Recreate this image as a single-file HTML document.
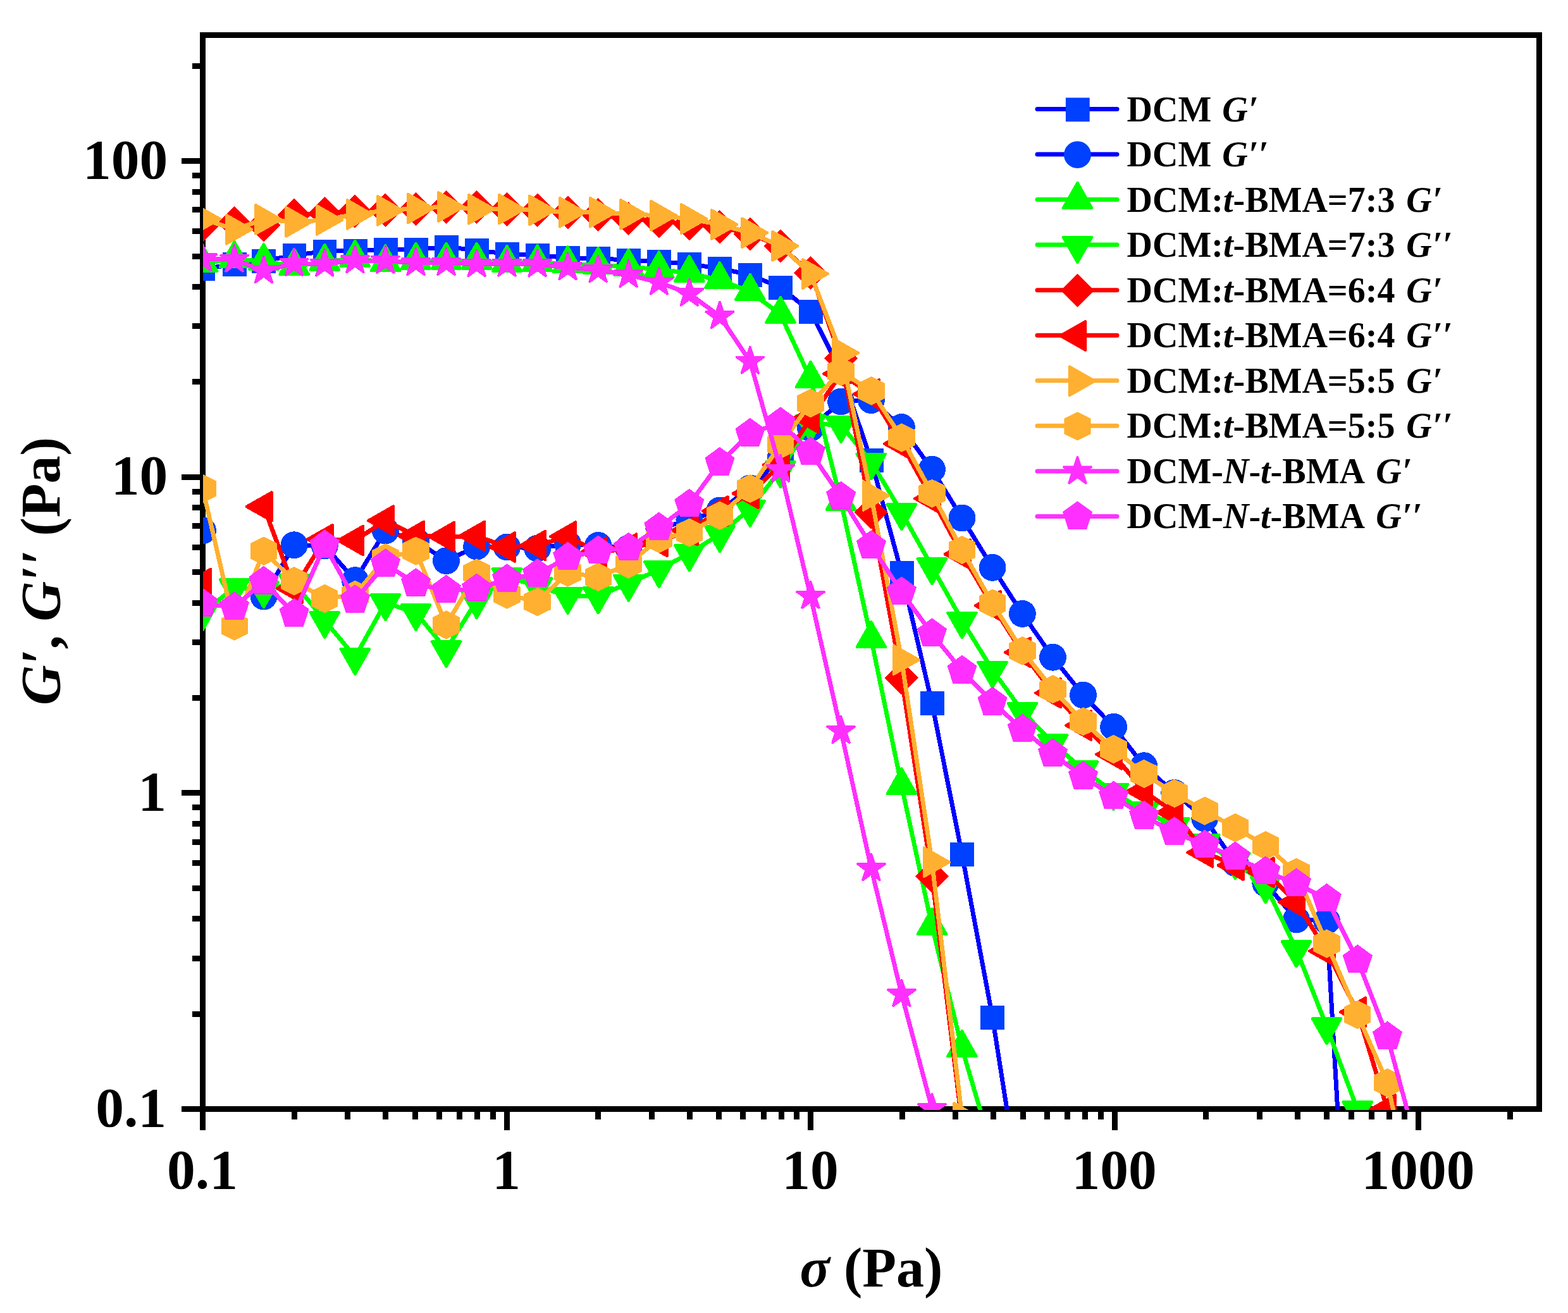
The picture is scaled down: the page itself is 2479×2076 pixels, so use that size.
<!DOCTYPE html>
<html><head><meta charset="utf-8"><title>G′, G′′ vs σ</title>
<style>html,body{margin:0;padding:0;background:#fff;overflow:hidden}svg{display:block}text{font-family:"Liberation Serif","Times New Roman",serif;font-weight:bold;fill:#000}.i{font-style:italic}</style></head><body>
<svg width="2479" height="2076" viewBox="0 0 2479 2076">
<rect width="2479" height="2076" fill="#fff"/>
<defs>
<g id="m-sq"><rect x="-17.1" y="-17.1" width="34.8" height="34.8" stroke-width="3.0" stroke-linejoin="miter" stroke-miterlimit="1.9"/></g>
<g id="m-ci"><circle r="19.9" stroke-width="3.0" stroke-linejoin="miter" stroke-miterlimit="1.9"/></g>
<g id="m-up"><polygon points="0,-28.55 23.75,13.2 -23.75,13.2" stroke-width="3.0" stroke-linejoin="miter" stroke-miterlimit="1.9"/></g>
<g id="m-dn"><polygon points="0,28.55 23.75,-13.2 -23.75,-13.2" stroke-width="3.0" stroke-linejoin="miter" stroke-miterlimit="1.9"/></g>
<g id="m-di"><polygon points="0,-24.4 24.4,0 0,24.4 -24.4,0" stroke-width="3.0" stroke-linejoin="miter" stroke-miterlimit="1.9"/></g>
<g id="m-le"><polygon points="-28.55,0 13.2,-23.75 13.2,23.75" stroke-width="3.0" stroke-linejoin="miter" stroke-miterlimit="1.9"/></g>
<g id="m-ri"><polygon points="28.55,0 -13.2,-23.75 -13.2,23.75" stroke-width="3.0" stroke-linejoin="miter" stroke-miterlimit="1.9"/></g>
<g id="m-hx"><polygon points="0,-21 19.6,-11.3 19.6,11.3 0,21 -19.6,11.3 -19.6,-11.3" stroke-width="3.0" stroke-linejoin="miter" stroke-miterlimit="1.9"/></g>
<g id="m-st"><polygon points="0,-23.9 5.4,-7.4 22.7,-7.4 8.7,2.8 14,19.3 0,9.1 -14,19.3 -8.7,2.8 -22.7,-7.4 -5.4,-7.4" stroke-width="3.0" stroke-linejoin="miter" stroke-miterlimit="1.9"/></g>
<g id="m-pe"><polygon points="0,-22.9 21.8,-7.1 13.5,18.5 -13.5,18.5 -21.8,-7.1" stroke-width="3.0" stroke-linejoin="miter" stroke-miterlimit="1.9"/></g>
<clipPath id="cp"><rect x="321" y="55.5" width="2112.5" height="1699.5"/></clipPath>
</defs>
<g stroke="#000" stroke-width="9" fill="none" shape-rendering="crispEdges">
<rect x="320.5" y="55.5" width="2113" height="1698"/>
<path d="M320.5 1753.5 v33.5 M465.2 1753.5 v16.5 M549.8 1753.5 v16.5 M609.8 1753.5 v16.5 M656.4 1753.5 v16.5 M694.4 1753.5 v16.5 M726.6 1753.5 v16.5 M754.5 1753.5 v16.5 M779 1753.5 v16.5 M801 1753.5 v33.5 M945.7 1753.5 v16.5 M1030.3 1753.5 v16.5 M1090.3 1753.5 v16.5 M1136.9 1753.5 v16.5 M1174.9 1753.5 v16.5 M1207.1 1753.5 v16.5 M1235 1753.5 v16.5 M1259.6 1753.5 v16.5 M1281.5 1753.5 v33.5 M1426.2 1753.5 v16.5 M1510.8 1753.5 v16.5 M1570.9 1753.5 v16.5 M1617.4 1753.5 v16.5 M1655.5 1753.5 v16.5 M1687.6 1753.5 v16.5 M1715.5 1753.5 v16.5 M1740.1 1753.5 v16.5 M1762.1 1753.5 v33.5 M1906.7 1753.5 v16.5 M1991.3 1753.5 v16.5 M2051.4 1753.5 v16.5 M2097.9 1753.5 v16.5 M2136 1753.5 v16.5 M2168.2 1753.5 v16.5 M2196 1753.5 v16.5 M2220.6 1753.5 v16.5 M2242.6 1753.5 v33.5 M2387.3 1753.5 v16.5 M320.5 1753.5 h-33.5 M320.5 1603.1 h-16.5 M320.5 1515.1 h-16.5 M320.5 1452.7 h-16.5 M320.5 1404.3 h-16.5 M320.5 1364.7 h-16.5 M320.5 1331.2 h-16.5 M320.5 1302.3 h-16.5 M320.5 1276.7 h-16.5 M320.5 1253.8 h-33.5 M320.5 1103.4 h-16.5 M320.5 1015.5 h-16.5 M320.5 953 h-16.5 M320.5 904.6 h-16.5 M320.5 865 h-16.5 M320.5 831.6 h-16.5 M320.5 802.6 h-16.5 M320.5 777.1 h-16.5 M320.5 754.2 h-33.5 M320.5 603.8 h-16.5 M320.5 515.8 h-16.5 M320.5 453.4 h-16.5 M320.5 405 h-16.5 M320.5 365.4 h-16.5 M320.5 331.9 h-16.5 M320.5 303 h-16.5 M320.5 277.4 h-16.5 M320.5 254.6 h-33.5 M320.5 104.1 h-16.5"/>
</g>
<g font-size="89.5">
<text x="320" y="1879.3" text-anchor="middle">0.1</text>
<text x="800.5" y="1879.3" text-anchor="middle">1</text>
<text x="1281" y="1879.3" text-anchor="middle">10</text>
<text x="1761.6" y="1879.3" text-anchor="middle">100</text>
<text x="2242.1" y="1879.3" text-anchor="middle">1000</text>
<text x="263" y="1780.9" text-anchor="end">0.1</text>
<text x="263" y="1280.7" text-anchor="end">1</text>
<text x="265.3" y="780.9" text-anchor="end">10</text>
<text x="265.3" y="281.5" text-anchor="end">100</text>
</g>
<text x="1377.5" y="2034.3" font-size="88" text-anchor="middle"><tspan class="i">σ</tspan> (Pa)</text>
<text transform="translate(93.8 903) rotate(-90)" font-size="88" text-anchor="middle"><tspan class="i">G′</tspan>, <tspan class="i">G′′</tspan> (Pa)</text>
<g clip-path="url(#cp)" shape-rendering="crispEdges">
<g>
<polyline fill="none" stroke="#0000ff" stroke-width="7" stroke-linejoin="round" points="320.5,425.2 370.6,417.9 416.9,412.6 465.1,403.6 513.3,397.4 561.4,396.4 609.4,394.5 657.5,394.5 705.5,390.5 753.6,395.7 801.5,401.4 849.6,403.6 897.6,407.6 945.7,408.6 993.7,411.4 1041.8,413.6 1089.8,417.4 1137.9,424.5 1185.9,434.5 1234,454.5 1281.5,492.5 1329.6,588 1377.4,727.9 1425.4,906 1473.5,1111.9 1521,1351 1569.1,1608.3 1616.4,1910"/>
<g fill="#0040ff" stroke="#0040ff">
<use href="#m-sq" x="320.5" y="425.2"/>
<use href="#m-sq" x="370.6" y="417.9"/>
<use href="#m-sq" x="416.9" y="412.6"/>
<use href="#m-sq" x="465.1" y="403.6"/>
<use href="#m-sq" x="513.3" y="397.4"/>
<use href="#m-sq" x="561.4" y="396.4"/>
<use href="#m-sq" x="609.4" y="394.5"/>
<use href="#m-sq" x="657.5" y="394.5"/>
<use href="#m-sq" x="705.5" y="390.5"/>
<use href="#m-sq" x="753.6" y="395.7"/>
<use href="#m-sq" x="801.5" y="401.4"/>
<use href="#m-sq" x="849.6" y="403.6"/>
<use href="#m-sq" x="897.6" y="407.6"/>
<use href="#m-sq" x="945.7" y="408.6"/>
<use href="#m-sq" x="993.7" y="411.4"/>
<use href="#m-sq" x="1041.8" y="413.6"/>
<use href="#m-sq" x="1089.8" y="417.4"/>
<use href="#m-sq" x="1137.9" y="424.5"/>
<use href="#m-sq" x="1185.9" y="434.5"/>
<use href="#m-sq" x="1234" y="454.5"/>
<use href="#m-sq" x="1281.5" y="492.5"/>
<use href="#m-sq" x="1329.6" y="588"/>
<use href="#m-sq" x="1377.4" y="727.9"/>
<use href="#m-sq" x="1425.4" y="906"/>
<use href="#m-sq" x="1473.5" y="1111.9"/>
<use href="#m-sq" x="1521" y="1351"/>
<use href="#m-sq" x="1569.1" y="1608.3"/>
<use href="#m-sq" x="1616.4" y="1910"/>
</g></g>
<g>
<polyline fill="none" stroke="#0000ff" stroke-width="7" stroke-linejoin="round" points="416.9,943 465.1,861.7 513.3,862.9 561.4,917.6 609.4,839 657.5,855 705.5,886.7 753.6,864 801.5,865 849.6,867 897.6,860 945.7,862.4 993.7,867 1041.8,836 1089.8,822 1137.9,807 1185.9,772 1234,724 1281.5,676.7 1329.6,635 1377.4,632.6 1425.4,675.5 1473.5,742.1 1521,819 1569.1,897.4 1616.4,970.4 1664.5,1039.3 1712.5,1099 1760.6,1149.3 1808.6,1210.7 1856.7,1253.6 1904.7,1294 1952.8,1364.5 2000.8,1396.7 2049.5,1453.8 2097.5,1456 2146.3,2300"/>
<g fill="#0040ff" stroke="#0040ff">
<use href="#m-ci" x="320.5" y="839"/>
<use href="#m-ci" x="416.9" y="943"/>
<use href="#m-ci" x="465.1" y="861.7"/>
<use href="#m-ci" x="513.3" y="862.9"/>
<use href="#m-ci" x="561.4" y="917.6"/>
<use href="#m-ci" x="609.4" y="839"/>
<use href="#m-ci" x="657.5" y="855"/>
<use href="#m-ci" x="705.5" y="886.7"/>
<use href="#m-ci" x="753.6" y="864"/>
<use href="#m-ci" x="801.5" y="865"/>
<use href="#m-ci" x="849.6" y="867"/>
<use href="#m-ci" x="897.6" y="860"/>
<use href="#m-ci" x="945.7" y="862.4"/>
<use href="#m-ci" x="993.7" y="867"/>
<use href="#m-ci" x="1041.8" y="836"/>
<use href="#m-ci" x="1089.8" y="822"/>
<use href="#m-ci" x="1137.9" y="807"/>
<use href="#m-ci" x="1185.9" y="772"/>
<use href="#m-ci" x="1234" y="724"/>
<use href="#m-ci" x="1281.5" y="676.7"/>
<use href="#m-ci" x="1329.6" y="635"/>
<use href="#m-ci" x="1377.4" y="632.6"/>
<use href="#m-ci" x="1425.4" y="675.5"/>
<use href="#m-ci" x="1473.5" y="742.1"/>
<use href="#m-ci" x="1521" y="819"/>
<use href="#m-ci" x="1569.1" y="897.4"/>
<use href="#m-ci" x="1616.4" y="970.4"/>
<use href="#m-ci" x="1664.5" y="1039.3"/>
<use href="#m-ci" x="1712.5" y="1099"/>
<use href="#m-ci" x="1760.6" y="1149.3"/>
<use href="#m-ci" x="1808.6" y="1210.7"/>
<use href="#m-ci" x="1856.7" y="1253.6"/>
<use href="#m-ci" x="1904.7" y="1294"/>
<use href="#m-ci" x="1952.8" y="1364.5"/>
<use href="#m-ci" x="2000.8" y="1396.7"/>
<use href="#m-ci" x="2049.5" y="1453.8"/>
<use href="#m-ci" x="2097.5" y="1456"/>
<use href="#m-ci" x="2146.3" y="2300"/>
</g></g>
<g>
<polyline fill="none" stroke="#00ff00" stroke-width="7" stroke-linejoin="round" points="320.5,416 370.6,409.5 416.9,413.3 465.1,421 513.3,414 561.4,408 609.4,415.7 657.5,412 705.5,412 753.6,412 801.5,416.2 849.6,415.5 897.6,417.4 945.7,419.3 993.7,422.1 1041.8,425.7 1089.8,432.1 1137.9,442.6 1185.9,461.2 1234,497.2 1281.5,599.4 1329.6,793.1 1377.4,1010.6 1425.4,1242.4 1473.5,1464.5 1521,1657.4 1569.1,1821"/>
<g fill="#00ff00" stroke="#00ff00">
<use href="#m-up" x="320.5" y="416"/>
<use href="#m-up" x="370.6" y="409.5"/>
<use href="#m-up" x="416.9" y="413.3"/>
<use href="#m-up" x="465.1" y="421"/>
<use href="#m-up" x="513.3" y="414"/>
<use href="#m-up" x="561.4" y="408"/>
<use href="#m-up" x="609.4" y="415.7"/>
<use href="#m-up" x="657.5" y="412"/>
<use href="#m-up" x="705.5" y="412"/>
<use href="#m-up" x="753.6" y="412"/>
<use href="#m-up" x="801.5" y="416.2"/>
<use href="#m-up" x="849.6" y="415.5"/>
<use href="#m-up" x="897.6" y="417.4"/>
<use href="#m-up" x="945.7" y="419.3"/>
<use href="#m-up" x="993.7" y="422.1"/>
<use href="#m-up" x="1041.8" y="425.7"/>
<use href="#m-up" x="1089.8" y="432.1"/>
<use href="#m-up" x="1137.9" y="442.6"/>
<use href="#m-up" x="1185.9" y="461.2"/>
<use href="#m-up" x="1234" y="497.2"/>
<use href="#m-up" x="1281.5" y="599.4"/>
<use href="#m-up" x="1329.6" y="793.1"/>
<use href="#m-up" x="1377.4" y="1010.6"/>
<use href="#m-up" x="1425.4" y="1242.4"/>
<use href="#m-up" x="1473.5" y="1464.5"/>
<use href="#m-up" x="1521" y="1657.4"/>
<use href="#m-up" x="1569.1" y="1821"/>
</g></g>
<g>
<polyline fill="none" stroke="#00ff00" stroke-width="7" stroke-linejoin="round" points="320.5,968.8 370.6,929 416.9,933 465.1,922 513.3,980.7 561.4,1038.8 609.4,953 657.5,968.8 705.5,1026.9 753.6,949.8 801.5,912 849.6,927 897.6,942.4 945.7,942.1 993.7,922.4 1041.8,900.7 1089.8,874.8 1137.9,844.8 1185.9,804.7 1234,743 1281.5,669.8 1329.6,672 1377.4,730.2 1425.4,810 1473.5,896 1521,981.2 1569.1,1059.5 1616.4,1124.5 1664.5,1175 1712.5,1216.9 1760.6,1252.9 1808.6,1281.4 1856.7,1306.9 1904.7,1332.8 1952.8,1361.7 2000.8,1399.8 2049.5,1501.2 2097.5,1623.1 2146.3,1755"/>
<g fill="#00ff00" stroke="#00ff00">
<use href="#m-dn" x="320.5" y="968.8"/>
<use href="#m-dn" x="370.6" y="929"/>
<use href="#m-dn" x="416.9" y="933"/>
<use href="#m-dn" x="465.1" y="922"/>
<use href="#m-dn" x="513.3" y="980.7"/>
<use href="#m-dn" x="561.4" y="1038.8"/>
<use href="#m-dn" x="609.4" y="953"/>
<use href="#m-dn" x="657.5" y="968.8"/>
<use href="#m-dn" x="705.5" y="1026.9"/>
<use href="#m-dn" x="753.6" y="949.8"/>
<use href="#m-dn" x="801.5" y="912"/>
<use href="#m-dn" x="849.6" y="927"/>
<use href="#m-dn" x="897.6" y="942.4"/>
<use href="#m-dn" x="945.7" y="942.1"/>
<use href="#m-dn" x="993.7" y="922.4"/>
<use href="#m-dn" x="1041.8" y="900.7"/>
<use href="#m-dn" x="1089.8" y="874.8"/>
<use href="#m-dn" x="1137.9" y="844.8"/>
<use href="#m-dn" x="1185.9" y="804.7"/>
<use href="#m-dn" x="1234" y="743"/>
<use href="#m-dn" x="1281.5" y="669.8"/>
<use href="#m-dn" x="1329.6" y="672"/>
<use href="#m-dn" x="1377.4" y="730.2"/>
<use href="#m-dn" x="1425.4" y="810"/>
<use href="#m-dn" x="1473.5" y="896"/>
<use href="#m-dn" x="1521" y="981.2"/>
<use href="#m-dn" x="1569.1" y="1059.5"/>
<use href="#m-dn" x="1616.4" y="1124.5"/>
<use href="#m-dn" x="1664.5" y="1175"/>
<use href="#m-dn" x="1712.5" y="1216.9"/>
<use href="#m-dn" x="1760.6" y="1252.9"/>
<use href="#m-dn" x="1808.6" y="1281.4"/>
<use href="#m-dn" x="1856.7" y="1306.9"/>
<use href="#m-dn" x="1904.7" y="1332.8"/>
<use href="#m-dn" x="1952.8" y="1361.7"/>
<use href="#m-dn" x="2000.8" y="1399.8"/>
<use href="#m-dn" x="2049.5" y="1501.2"/>
<use href="#m-dn" x="2097.5" y="1623.1"/>
<use href="#m-dn" x="2146.3" y="1755"/>
</g></g>
<g>
<polyline fill="none" stroke="#ff0000" stroke-width="7" stroke-linejoin="round" points="320.5,356.4 370.6,352.9 416.9,355.7 465.1,340 513.3,337.6 561.4,334 609.4,332.1 657.5,330.3 705.5,327.4 753.6,327.4 801.5,331 849.6,332.1 897.6,336 945.7,339.3 993.7,345.5 1041.8,349.8 1089.8,354 1137.9,358.6 1185.9,370 1234,389.3 1281.5,431.2 1329.6,566.7 1377.4,810 1425.4,1071.9 1473.5,1385.7 1521,1777"/>
<g fill="#ff0000" stroke="#ff0000">
<use href="#m-di" x="320.5" y="356.4"/>
<use href="#m-di" x="370.6" y="352.9"/>
<use href="#m-di" x="416.9" y="355.7"/>
<use href="#m-di" x="465.1" y="340"/>
<use href="#m-di" x="513.3" y="337.6"/>
<use href="#m-di" x="561.4" y="334"/>
<use href="#m-di" x="609.4" y="332.1"/>
<use href="#m-di" x="657.5" y="330.3"/>
<use href="#m-di" x="705.5" y="327.4"/>
<use href="#m-di" x="753.6" y="327.4"/>
<use href="#m-di" x="801.5" y="331"/>
<use href="#m-di" x="849.6" y="332.1"/>
<use href="#m-di" x="897.6" y="336"/>
<use href="#m-di" x="945.7" y="339.3"/>
<use href="#m-di" x="993.7" y="345.5"/>
<use href="#m-di" x="1041.8" y="349.8"/>
<use href="#m-di" x="1089.8" y="354"/>
<use href="#m-di" x="1137.9" y="358.6"/>
<use href="#m-di" x="1185.9" y="370"/>
<use href="#m-di" x="1234" y="389.3"/>
<use href="#m-di" x="1281.5" y="431.2"/>
<use href="#m-di" x="1329.6" y="566.7"/>
<use href="#m-di" x="1377.4" y="810"/>
<use href="#m-di" x="1425.4" y="1071.9"/>
<use href="#m-di" x="1473.5" y="1385.7"/>
<use href="#m-di" x="1521" y="1777"/>
</g></g>
<g>
<polyline fill="none" stroke="#ff0000" stroke-width="7" stroke-linejoin="round" points="416.9,801 465.1,930.5 513.3,852.6 561.4,854.5 609.4,823.1 657.5,847.4 705.5,848.6 753.6,847.4 801.5,865 849.6,862.4 897.6,848.1 945.7,873.1 993.7,867.1 1041.8,856.4 1089.8,838.6 1137.9,808.1 1185.9,780.2 1234,735 1281.5,661.2 1329.6,591 1377.4,623 1425.4,701.7 1473.5,788.3 1521,876.2 1569.1,957.6 1616.4,1031.4 1664.5,1095.7 1712.5,1147 1760.6,1192.9 1808.6,1251.2 1856.7,1284.5 1904.7,1347.9 1952.8,1368.1 2000.8,1379.3 2049.5,1426.4 2097.5,1503.8 2146.3,1600.2 2193.5,1754"/>
<g fill="#ff0000" stroke="#ff0000">
<use href="#m-le" x="320.5" y="922.4"/>
<use href="#m-le" x="416.9" y="801"/>
<use href="#m-le" x="465.1" y="930.5"/>
<use href="#m-le" x="513.3" y="852.6"/>
<use href="#m-le" x="561.4" y="854.5"/>
<use href="#m-le" x="609.4" y="823.1"/>
<use href="#m-le" x="657.5" y="847.4"/>
<use href="#m-le" x="705.5" y="848.6"/>
<use href="#m-le" x="753.6" y="847.4"/>
<use href="#m-le" x="801.5" y="865"/>
<use href="#m-le" x="849.6" y="862.4"/>
<use href="#m-le" x="897.6" y="848.1"/>
<use href="#m-le" x="945.7" y="873.1"/>
<use href="#m-le" x="993.7" y="867.1"/>
<use href="#m-le" x="1041.8" y="856.4"/>
<use href="#m-le" x="1089.8" y="838.6"/>
<use href="#m-le" x="1137.9" y="808.1"/>
<use href="#m-le" x="1185.9" y="780.2"/>
<use href="#m-le" x="1234" y="735"/>
<use href="#m-le" x="1281.5" y="661.2"/>
<use href="#m-le" x="1329.6" y="591"/>
<use href="#m-le" x="1377.4" y="623"/>
<use href="#m-le" x="1425.4" y="701.7"/>
<use href="#m-le" x="1473.5" y="788.3"/>
<use href="#m-le" x="1521" y="876.2"/>
<use href="#m-le" x="1569.1" y="957.6"/>
<use href="#m-le" x="1616.4" y="1031.4"/>
<use href="#m-le" x="1664.5" y="1095.7"/>
<use href="#m-le" x="1712.5" y="1147"/>
<use href="#m-le" x="1760.6" y="1192.9"/>
<use href="#m-le" x="1808.6" y="1251.2"/>
<use href="#m-le" x="1856.7" y="1284.5"/>
<use href="#m-le" x="1904.7" y="1347.9"/>
<use href="#m-le" x="1952.8" y="1368.1"/>
<use href="#m-le" x="2000.8" y="1379.3"/>
<use href="#m-le" x="2049.5" y="1426.4"/>
<use href="#m-le" x="2097.5" y="1503.8"/>
<use href="#m-le" x="2146.3" y="1600.2"/>
<use href="#m-le" x="2193.5" y="1754"/>
</g></g>
<g>
<polyline fill="none" stroke="#ffb030" stroke-width="7" stroke-linejoin="round" points="320.5,346.2 370.6,362.7 416.9,346.9 465.1,350.8 513.3,347.9 561.4,338.9 609.4,332.9 657.5,329.5 705.5,326.9 753.6,330.7 801.5,330.7 849.6,332.4 897.6,335.7 945.7,335.7 993.7,338.8 1041.8,340.7 1089.8,346 1137.9,355 1185.9,368.1 1234,389 1281.5,432.9 1329.6,558 1377.4,783.8 1425.4,1043.3 1473.5,1363.1 1521,1767"/>
<g fill="#ffb030" stroke="#ffb030">
<use href="#m-ri" x="320.5" y="346.2"/>
<use href="#m-ri" x="370.6" y="362.7"/>
<use href="#m-ri" x="416.9" y="346.9"/>
<use href="#m-ri" x="465.1" y="350.8"/>
<use href="#m-ri" x="513.3" y="347.9"/>
<use href="#m-ri" x="561.4" y="338.9"/>
<use href="#m-ri" x="609.4" y="332.9"/>
<use href="#m-ri" x="657.5" y="329.5"/>
<use href="#m-ri" x="705.5" y="326.9"/>
<use href="#m-ri" x="753.6" y="330.7"/>
<use href="#m-ri" x="801.5" y="330.7"/>
<use href="#m-ri" x="849.6" y="332.4"/>
<use href="#m-ri" x="897.6" y="335.7"/>
<use href="#m-ri" x="945.7" y="335.7"/>
<use href="#m-ri" x="993.7" y="338.8"/>
<use href="#m-ri" x="1041.8" y="340.7"/>
<use href="#m-ri" x="1089.8" y="346"/>
<use href="#m-ri" x="1137.9" y="355"/>
<use href="#m-ri" x="1185.9" y="368.1"/>
<use href="#m-ri" x="1234" y="389"/>
<use href="#m-ri" x="1281.5" y="432.9"/>
<use href="#m-ri" x="1329.6" y="558"/>
<use href="#m-ri" x="1377.4" y="783.8"/>
<use href="#m-ri" x="1425.4" y="1043.3"/>
<use href="#m-ri" x="1473.5" y="1363.1"/>
<use href="#m-ri" x="1521" y="1767"/>
</g></g>
<g>
<polyline fill="none" stroke="#ffb030" stroke-width="7" stroke-linejoin="round" points="320.5,772.4 370.6,990 416.9,871.2 465.1,918.8 513.3,946.5 561.4,940.5 609.4,882 657.5,871.2 705.5,988 753.6,906 801.5,940 849.6,951.7 897.6,905.2 945.7,912.4 993.7,892.1 1041.8,851.7 1089.8,842.1 1137.9,815.2 1185.9,772.5 1234,702.9 1281.5,637.4 1329.6,587.7 1377.4,618 1425.4,692.1 1473.5,780.2 1521,869.5 1569.1,954 1616.4,1029 1664.5,1089.8 1712.5,1140.8 1760.6,1184.5 1808.6,1223.3 1856.7,1254.3 1904.7,1282.2 1952.8,1308.8 2000.8,1336.8 2049.5,1379.5 2097.5,1491.9 2146.3,1604.3 2193.5,1712 2242.6,1940"/>
<g fill="#ffb030" stroke="#ffb030">
<use href="#m-hx" x="320.5" y="772.4"/>
<use href="#m-hx" x="370.6" y="990"/>
<use href="#m-hx" x="416.9" y="871.2"/>
<use href="#m-hx" x="465.1" y="918.8"/>
<use href="#m-hx" x="513.3" y="946.5"/>
<use href="#m-hx" x="561.4" y="940.5"/>
<use href="#m-hx" x="609.4" y="882"/>
<use href="#m-hx" x="657.5" y="871.2"/>
<use href="#m-hx" x="705.5" y="988"/>
<use href="#m-hx" x="753.6" y="906"/>
<use href="#m-hx" x="801.5" y="940"/>
<use href="#m-hx" x="849.6" y="951.7"/>
<use href="#m-hx" x="897.6" y="905.2"/>
<use href="#m-hx" x="945.7" y="912.4"/>
<use href="#m-hx" x="993.7" y="892.1"/>
<use href="#m-hx" x="1041.8" y="851.7"/>
<use href="#m-hx" x="1089.8" y="842.1"/>
<use href="#m-hx" x="1137.9" y="815.2"/>
<use href="#m-hx" x="1185.9" y="772.5"/>
<use href="#m-hx" x="1234" y="702.9"/>
<use href="#m-hx" x="1281.5" y="637.4"/>
<use href="#m-hx" x="1329.6" y="587.7"/>
<use href="#m-hx" x="1377.4" y="618"/>
<use href="#m-hx" x="1425.4" y="692.1"/>
<use href="#m-hx" x="1473.5" y="780.2"/>
<use href="#m-hx" x="1521" y="869.5"/>
<use href="#m-hx" x="1569.1" y="954"/>
<use href="#m-hx" x="1616.4" y="1029"/>
<use href="#m-hx" x="1664.5" y="1089.8"/>
<use href="#m-hx" x="1712.5" y="1140.8"/>
<use href="#m-hx" x="1760.6" y="1184.5"/>
<use href="#m-hx" x="1808.6" y="1223.3"/>
<use href="#m-hx" x="1856.7" y="1254.3"/>
<use href="#m-hx" x="1904.7" y="1282.2"/>
<use href="#m-hx" x="1952.8" y="1308.8"/>
<use href="#m-hx" x="2000.8" y="1336.8"/>
<use href="#m-hx" x="2049.5" y="1379.5"/>
<use href="#m-hx" x="2097.5" y="1491.9"/>
<use href="#m-hx" x="2146.3" y="1604.3"/>
<use href="#m-hx" x="2193.5" y="1712"/>
<use href="#m-hx" x="2242.6" y="1940"/>
</g></g>
<g>
<polyline fill="none" stroke="#ff30ff" stroke-width="7" stroke-linejoin="round" points="320.5,409.3 370.6,410.5 416.9,428.1 465.1,416.7 513.3,417.4 561.4,411.9 609.4,412.6 657.5,415.7 705.5,415.7 753.6,418 801.5,417.4 849.6,418.1 897.6,422.9 945.7,426.9 993.7,434.8 1041.8,446.4 1089.8,464.3 1137.9,500 1185.9,571.4 1234,742.6 1281.5,942.6 1329.6,1155.8 1377.4,1372.9 1425.4,1572 1473.5,1752.8"/>
<g fill="#ff30ff" stroke="#ff30ff">
<use href="#m-st" x="320.5" y="409.3"/>
<use href="#m-st" x="370.6" y="410.5"/>
<use href="#m-st" x="416.9" y="428.1"/>
<use href="#m-st" x="465.1" y="416.7"/>
<use href="#m-st" x="513.3" y="417.4"/>
<use href="#m-st" x="561.4" y="411.9"/>
<use href="#m-st" x="609.4" y="412.6"/>
<use href="#m-st" x="657.5" y="415.7"/>
<use href="#m-st" x="705.5" y="415.7"/>
<use href="#m-st" x="753.6" y="418"/>
<use href="#m-st" x="801.5" y="417.4"/>
<use href="#m-st" x="849.6" y="418.1"/>
<use href="#m-st" x="897.6" y="422.9"/>
<use href="#m-st" x="945.7" y="426.9"/>
<use href="#m-st" x="993.7" y="434.8"/>
<use href="#m-st" x="1041.8" y="446.4"/>
<use href="#m-st" x="1089.8" y="464.3"/>
<use href="#m-st" x="1137.9" y="500"/>
<use href="#m-st" x="1185.9" y="571.4"/>
<use href="#m-st" x="1234" y="742.6"/>
<use href="#m-st" x="1281.5" y="942.6"/>
<use href="#m-st" x="1329.6" y="1155.8"/>
<use href="#m-st" x="1377.4" y="1372.9"/>
<use href="#m-st" x="1425.4" y="1572"/>
<use href="#m-st" x="1473.5" y="1752.8"/>
</g></g>
<g>
<polyline fill="none" stroke="#ff30ff" stroke-width="7" stroke-linejoin="round" points="320.5,954.6 370.6,960 416.9,919.5 465.1,970.7 513.3,862.1 561.4,948.8 609.4,891.9 657.5,922.9 705.5,933.4 753.6,931.2 801.5,916 849.6,907.6 897.6,881.4 945.7,871.2 993.7,866.4 1041.8,834.3 1089.8,797.4 1137.9,731.5 1185.9,685.5 1234,668.1 1281.5,715.2 1329.6,785.5 1377.4,862.9 1425.4,936.2 1473.5,1002 1521,1060.5 1569.1,1110.5 1616.4,1153.3 1664.5,1192.3 1712.5,1227.9 1760.6,1259.3 1808.6,1290.5 1856.7,1316 1904.7,1336.3 1952.8,1355.1 2000.8,1378.1 2049.5,1397.1 2097.5,1421.4 2146.3,1518.1 2193.5,1639.2 2242.6,1820.7"/>
<g fill="#ff30ff" stroke="#ff30ff">
<use href="#m-pe" x="320.5" y="954.6"/>
<use href="#m-pe" x="370.6" y="960"/>
<use href="#m-pe" x="416.9" y="919.5"/>
<use href="#m-pe" x="465.1" y="970.7"/>
<use href="#m-pe" x="513.3" y="862.1"/>
<use href="#m-pe" x="561.4" y="948.8"/>
<use href="#m-pe" x="609.4" y="891.9"/>
<use href="#m-pe" x="657.5" y="922.9"/>
<use href="#m-pe" x="705.5" y="933.4"/>
<use href="#m-pe" x="753.6" y="931.2"/>
<use href="#m-pe" x="801.5" y="916"/>
<use href="#m-pe" x="849.6" y="907.6"/>
<use href="#m-pe" x="897.6" y="881.4"/>
<use href="#m-pe" x="945.7" y="871.2"/>
<use href="#m-pe" x="993.7" y="866.4"/>
<use href="#m-pe" x="1041.8" y="834.3"/>
<use href="#m-pe" x="1089.8" y="797.4"/>
<use href="#m-pe" x="1137.9" y="731.5"/>
<use href="#m-pe" x="1185.9" y="685.5"/>
<use href="#m-pe" x="1234" y="668.1"/>
<use href="#m-pe" x="1281.5" y="715.2"/>
<use href="#m-pe" x="1329.6" y="785.5"/>
<use href="#m-pe" x="1377.4" y="862.9"/>
<use href="#m-pe" x="1425.4" y="936.2"/>
<use href="#m-pe" x="1473.5" y="1002"/>
<use href="#m-pe" x="1521" y="1060.5"/>
<use href="#m-pe" x="1569.1" y="1110.5"/>
<use href="#m-pe" x="1616.4" y="1153.3"/>
<use href="#m-pe" x="1664.5" y="1192.3"/>
<use href="#m-pe" x="1712.5" y="1227.9"/>
<use href="#m-pe" x="1760.6" y="1259.3"/>
<use href="#m-pe" x="1808.6" y="1290.5"/>
<use href="#m-pe" x="1856.7" y="1316"/>
<use href="#m-pe" x="1904.7" y="1336.3"/>
<use href="#m-pe" x="1952.8" y="1355.1"/>
<use href="#m-pe" x="2000.8" y="1378.1"/>
<use href="#m-pe" x="2049.5" y="1397.1"/>
<use href="#m-pe" x="2097.5" y="1421.4"/>
<use href="#m-pe" x="2146.3" y="1518.1"/>
<use href="#m-pe" x="2193.5" y="1639.2"/>
<use href="#m-pe" x="2242.6" y="1820.7"/>
</g></g>
</g>
<g font-size="57">
<line x1="1640" x2="1766" y1="172.5" y2="172.5" stroke="#0000ff" stroke-width="7" stroke-linecap="round"/>
<use href="#m-sq" x="1703.5" y="173.1" fill="#0040ff" stroke="#0040ff"/>
<text transform="translate(1781.5 191.5) scale(0.983 1)" xml:space="preserve">DCM <tspan class="i" dx="3">G</tspan><tspan class="i" dx="1">′</tspan></text>
<line x1="1640" x2="1766" y1="244.1" y2="244.1" stroke="#0000ff" stroke-width="7" stroke-linecap="round"/>
<use href="#m-ci" x="1703.5" y="244.7" fill="#0040ff" stroke="#0040ff"/>
<text transform="translate(1781.5 263.1) scale(0.983 1)" xml:space="preserve">DCM <tspan class="i" dx="3">G</tspan><tspan class="i" dx="1">′′</tspan></text>
<line x1="1640" x2="1766" y1="315.6" y2="315.6" stroke="#00ff00" stroke-width="7" stroke-linecap="round"/>
<use href="#m-up" x="1703.5" y="316.2" fill="#00ff00" stroke="#00ff00"/>
<text transform="translate(1781.5 334.6) scale(0.983 1)" xml:space="preserve">DCM:<tspan class="i">t</tspan>-BMA=7:3 <tspan class="i" dx="4">G</tspan><tspan class="i" dx="1">′</tspan></text>
<line x1="1640" x2="1766" y1="387.1" y2="387.1" stroke="#00ff00" stroke-width="7" stroke-linecap="round"/>
<use href="#m-dn" x="1703.5" y="387.8" fill="#00ff00" stroke="#00ff00"/>
<text transform="translate(1781.5 406.1) scale(0.983 1)" xml:space="preserve">DCM:<tspan class="i">t</tspan>-BMA=7:3 <tspan class="i" dx="4">G</tspan><tspan class="i" dx="1">′′</tspan></text>
<line x1="1640" x2="1766" y1="458.7" y2="458.7" stroke="#ff0000" stroke-width="7" stroke-linecap="round"/>
<use href="#m-di" x="1703.5" y="459.3" fill="#ff0000" stroke="#ff0000"/>
<text transform="translate(1781.5 477.7) scale(0.983 1)" xml:space="preserve">DCM:<tspan class="i">t</tspan>-BMA=6:4 <tspan class="i" dx="4">G</tspan><tspan class="i" dx="1">′</tspan></text>
<line x1="1640" x2="1766" y1="530.2" y2="530.2" stroke="#ff0000" stroke-width="7" stroke-linecap="round"/>
<use href="#m-le" x="1703.5" y="530.9" fill="#ff0000" stroke="#ff0000"/>
<text transform="translate(1781.5 549.2) scale(0.983 1)" xml:space="preserve">DCM:<tspan class="i">t</tspan>-BMA=6:4 <tspan class="i" dx="4">G</tspan><tspan class="i" dx="1">′′</tspan></text>
<line x1="1640" x2="1766" y1="601.8" y2="601.8" stroke="#ffb030" stroke-width="7" stroke-linecap="round"/>
<use href="#m-ri" x="1703.5" y="602.4" fill="#ffb030" stroke="#ffb030"/>
<text transform="translate(1781.5 620.8) scale(0.983 1)" xml:space="preserve">DCM:<tspan class="i">t</tspan>-BMA=5:5 <tspan class="i" dx="4">G</tspan><tspan class="i" dx="1">′</tspan></text>
<line x1="1640" x2="1766" y1="673.3" y2="673.3" stroke="#ffb030" stroke-width="7" stroke-linecap="round"/>
<use href="#m-hx" x="1703.5" y="673.9" fill="#ffb030" stroke="#ffb030"/>
<text transform="translate(1781.5 692.3) scale(0.983 1)" xml:space="preserve">DCM:<tspan class="i">t</tspan>-BMA=5:5 <tspan class="i" dx="4">G</tspan><tspan class="i" dx="1">′′</tspan></text>
<line x1="1640" x2="1766" y1="744.9" y2="744.9" stroke="#ff30ff" stroke-width="7" stroke-linecap="round"/>
<use href="#m-st" x="1703.5" y="745.5" fill="#ff30ff" stroke="#ff30ff"/>
<text transform="translate(1781.5 763.9) scale(0.983 1)" xml:space="preserve">DCM-<tspan class="i">N</tspan>-<tspan class="i">t</tspan>-BMA <tspan class="i" dx="6.5">G</tspan><tspan class="i" dx="1">′</tspan></text>
<line x1="1640" x2="1766" y1="816.4" y2="816.4" stroke="#ff30ff" stroke-width="7" stroke-linecap="round"/>
<use href="#m-pe" x="1703.5" y="817" fill="#ff30ff" stroke="#ff30ff"/>
<text transform="translate(1781.5 835.4) scale(0.983 1)" xml:space="preserve">DCM-<tspan class="i">N</tspan>-<tspan class="i">t</tspan>-BMA <tspan class="i" dx="6.5">G</tspan><tspan class="i" dx="1">′′</tspan></text>
</g>
</svg></body></html>
